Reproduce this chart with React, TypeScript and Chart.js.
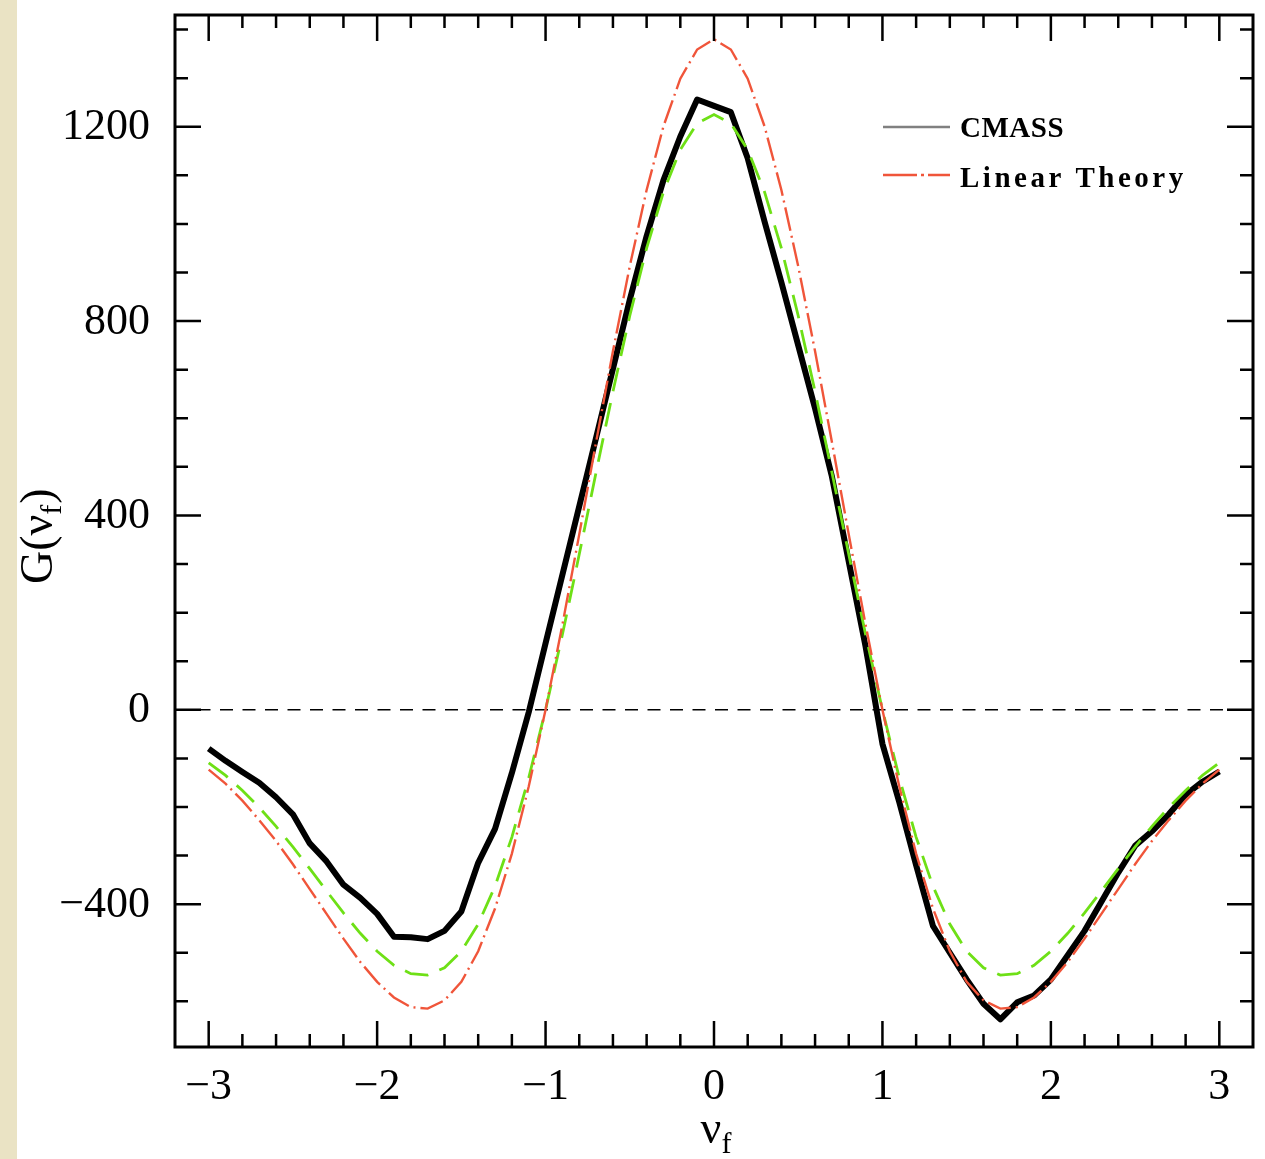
import { useEffect, useRef } from 'react';
import { Chart, registerables } from 'chart.js';

Chart.register(...registerables);

// Field threshold values nu_f
const nu = [
  -3.0, -2.9, -2.8, -2.7, -2.6, -2.5, -2.4, -2.3, -2.2, -2.1,
  -2.0, -1.9, -1.8, -1.7, -1.6, -1.5, -1.4, -1.3, -1.2, -1.1,
  -1.0, -0.9, -0.8, -0.7, -0.6, -0.5, -0.4, -0.3, -0.2, -0.1,
  0.0, 0.1, 0.2, 0.3, 0.4, 0.5, 0.6, 0.7, 0.8, 0.9,
  1.0, 1.1, 1.2, 1.3, 1.4, 1.5, 1.6, 1.7, 1.8, 1.9,
  2.0, 2.1, 2.2, 2.3, 2.4, 2.5, 2.6, 2.7, 2.8, 2.9,
  3.0,
];

// Measured genus curve
const cmass = [
  -80, -105, -128, -150, -180, -215, -275, -312, -360, -387,
  -420, -467, -468, -472, -455, -415, -315, -245, -130, -5,
  137, 278, 419, 560, 702, 844, 975, 1090, 1180, 1256,
  1243, 1230, 1135, 1005, 880, 750, 620, 480, 305, 130,
  -70, -190, -320, -445, -500, -555, -605, -637, -602, -588,
  -555, -505, -455, -395, -335, -280, -250, -215, -175, -148,
  -127,
];

// Gaussian-shape fit
const gaussianFit = [
  -109, -135, -166, -201, -240, -282, -327, -373, -418, -460,
  -497, -526, -543, -546, -531, -497, -441, -363, -262, -140,
  0, 155, 320, 489, 655, 811, 950, 1066, 1153, 1207,
  1225, 1207, 1153, 1066, 950, 811, 655, 489, 320, 155,
  0, -140, -262, -363, -441, -497, -531, -546, -543, -526,
  -497, -460, -418, -373, -327, -282, -240, -201, -166, -135,
  -109,
];

// Linear theory prediction
const linearTheory = [
  -123, -152, -187, -227, -270, -318, -369, -420, -471, -519,
  -560, -592, -612, -615, -598, -560, -497, -409, -296, -158,
  0, 175, 361, 551, 738, 913, 1070, 1201, 1299, 1359,
  1380, 1359, 1299, 1201, 1070, 913, 738, 551, 361, 175,
  0, -158, -296, -409, -497, -560, -598, -615, -612, -592,
  -560, -519, -471, -420, -369, -318, -270, -227, -187, -152,
  -123,
];

const xTickLabels = [-3, -2, -1, 0, 1, 2, 3];
const yTickLabels = [-400, 0, 400, 800, 1200];
const legendLabels = ['CMASS', 'Linear Theory'];

const X_MIN = -3.2;
const X_MAX = 3.2;
const Y_MIN = -694;
const Y_MAX = 1430;

const SERIF = '"Liberation Serif", "Times New Roman", serif';

const fmt = (v: number) => (v < 0 ? '\u2212' + Math.abs(v) : String(v));

const decorPlugin = {
  id: 'plotDecor',
  beforeDraw(chart: any) {
    const { ctx, width, height } = chart;
    ctx.save();
    ctx.fillStyle = '#ffffff';
    ctx.fillRect(0, 0, width, height);
    ctx.fillStyle = '#eae3c4';
    ctx.fillRect(0, 0, 17, height);
    ctx.restore();
  },
  beforeDatasetsDraw(chart: any) {
    const { ctx, chartArea, scales } = chart;
    const y0 = scales.y.getPixelForValue(0);
    ctx.save();
    ctx.strokeStyle = '#000';
    ctx.lineWidth = 1.5;
    ctx.setLineDash([13, 9.5]);
    ctx.beginPath();
    ctx.moveTo(chartArea.left, y0);
    ctx.lineTo(chartArea.right, y0);
    ctx.stroke();
    ctx.restore();
  },
  afterDatasetsDraw(chart: any) {
    const { ctx, chartArea, scales } = chart;
    const { left, right, top, bottom } = chartArea;
    const sx = scales.x;
    const sy = scales.y;
    ctx.save();

    // frame
    ctx.strokeStyle = '#000';
    ctx.lineWidth = 3;
    ctx.setLineDash([]);
    ctx.strokeRect(left, top, right - left, bottom - top);

    // inward ticks on all four sides
    ctx.lineWidth = 2.5;
    ctx.beginPath();
    for (let i = -15; i <= 15; i++) {
      const v = i / 5;
      const px = sx.getPixelForValue(v);
      const len = i % 5 === 0 ? 26 : 13;
      ctx.moveTo(px, bottom);
      ctx.lineTo(px, bottom - len);
      ctx.moveTo(px, top);
      ctx.lineTo(px, top + len);
    }
    for (let v = -600; v <= 1400; v += 100) {
      const py = sy.getPixelForValue(v);
      const len = v % 400 === 0 ? 26 : 13;
      ctx.moveTo(left, py);
      ctx.lineTo(left + len, py);
      ctx.moveTo(right, py);
      ctx.lineTo(right - len, py);
    }
    ctx.stroke();

    // tick labels
    ctx.fillStyle = '#000';
    ctx.font = `44px ${SERIF}`;
    ctx.textBaseline = 'middle';
    ctx.textAlign = 'center';
    xTickLabels.forEach((v) => {
      ctx.fillText(fmt(v), sx.getPixelForValue(v), 1087);
    });
    ctx.textAlign = 'right';
    yTickLabels.forEach((v) => {
      ctx.fillText(fmt(v), 150, sy.getPixelForValue(v) + 1);
    });

    // x axis title: nu_f
    ctx.textBaseline = 'alphabetic';
    ctx.textAlign = 'left';
    ctx.font = `46px ${SERIF}`;
    const nuW = ctx.measureText('\u03bd').width;
    const xt = 714 - nuW / 2 - 3;
    ctx.fillText('\u03bd', xt, 1143);
    ctx.font = `30px ${SERIF}`;
    ctx.fillText('f', xt + nuW, 1153);

    // y axis title: G(nu_f)
    ctx.save();
    ctx.translate(52, 584);
    ctx.rotate(-Math.PI / 2);
    ctx.font = `46px ${SERIF}`;
    let cx = 0;
    ctx.fillText('G(\u03bd', cx, 0);
    cx += ctx.measureText('G(\u03bd').width;
    ctx.font = `30px ${SERIF}`;
    ctx.fillText('f', cx, 9);
    cx += ctx.measureText('f').width + 1;
    ctx.font = `46px ${SERIF}`;
    ctx.fillText(')', cx, 0);
    ctx.restore();

    // legend
    ctx.lineWidth = 2.5;
    ctx.strokeStyle = '#808080';
    ctx.beginPath();
    ctx.moveTo(883, 127);
    ctx.lineTo(950, 127);
    ctx.stroke();
    ctx.strokeStyle = '#f0553a';
    ctx.lineWidth = 2.4;
    ctx.setLineDash([34, 4, 3, 4]);
    ctx.beginPath();
    ctx.moveTo(883, 175);
    ctx.lineTo(950, 175);
    ctx.stroke();
    ctx.setLineDash([]);

    ctx.font = `bold 29px ${SERIF}`;
    ctx.fillStyle = '#000';
    (ctx as any).letterSpacing = '0.5px';
    ctx.fillText(legendLabels[0], 960, 137);
    (ctx as any).letterSpacing = '3.5px';
    ctx.fillText(legendLabels[1], 960, 187);
    (ctx as any).letterSpacing = '0px';

    ctx.restore();
  },
};

export default function App() {
  const canvasRef = useRef<HTMLCanvasElement | null>(null);

  useEffect(() => {
    const canvas = canvasRef.current;
    if (!canvas) return;
    const toPoints = (ys: number[]) => nu.map((x, i) => ({ x, y: ys[i] }));
    const chart = new Chart(canvas, {
      type: 'line',
      data: {
        datasets: [
          {
            label: legendLabels[1],
            data: toPoints(linearTheory),
            borderColor: '#f0553a',
            borderWidth: 2.4,
            borderDash: [24, 5, 2, 5],
            pointRadius: 0,
            tension: 0,
            fill: false,
          },
          {
            label: 'Gaussian',
            data: toPoints(gaussianFit),
            borderColor: '#6ee016',
            borderWidth: 2.8,
            borderDash: [24, 12],
            pointRadius: 0,
            tension: 0,
            fill: false,
          },
          {
            label: legendLabels[0],
            data: toPoints(cmass),
            borderColor: '#000000',
            borderWidth: 6,
            borderJoinStyle: 'round',
            pointRadius: 0,
            tension: 0,
            fill: false,
          },
        ],
      },
      options: {
        responsive: false,
        animation: false,
        events: [],
        layout: { padding: { left: 175, top: 15, right: 12, bottom: 112 } },
        plugins: { legend: { display: false }, tooltip: { enabled: false } },
        scales: {
          x: { type: 'linear', min: X_MIN, max: X_MAX, display: false },
          y: { type: 'linear', min: Y_MIN, max: Y_MAX, display: false },
        },
      },
      plugins: [decorPlugin],
    } as any);
    return () => chart.destroy();
  }, []);

  return (
    <div
      style={{
        position: 'absolute',
        left: 0,
        top: 0,
        width: 1265,
        height: 1159,
        background: '#ffffff',
      }}
    >
      <canvas ref={canvasRef} width={1265} height={1159} style={{ display: 'block' }} />
    </div>
  );
}
